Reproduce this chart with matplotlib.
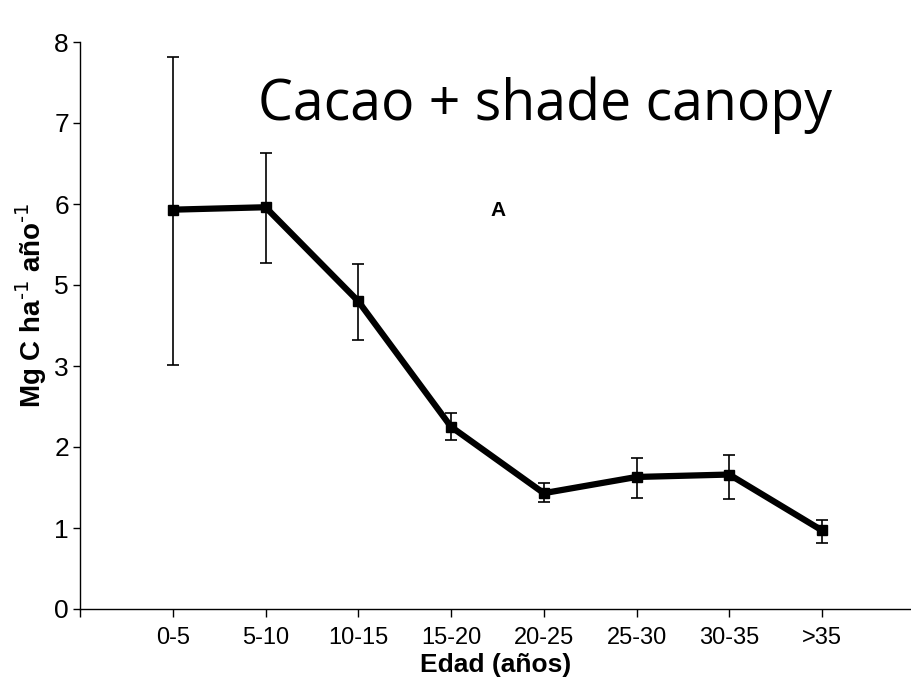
import matplotlib
matplotlib.use("Agg")
import matplotlib.pyplot as plt
import numpy as np

categories = ["0-5", "5-10", "10-15", "15-20", "20-25", "25-30", "30-35", ">35"]
# values in axis-position units (ticks are evenly spaced but labelled 0,1,2,3,5,6,7,8)
values = [4.93, 4.96, 3.80, 2.25, 1.43, 1.63, 1.66, 0.97]
err_low = [1.92, 0.69, 0.48, 0.16, 0.11, 0.26, 0.30, 0.15]
err_high = [1.89, 0.67, 0.46, 0.17, 0.12, 0.23, 0.24, 0.13]
ytick_labels = ["0", "1", "2", "3", "5", "6", "7", "8"]

plt.rcParams["mathtext.default"] = "regular"

fig = plt.figure(figsize=(9.12, 6.95), dpi=100)
ax = fig.add_axes([80/912, 86/695, 1 - 80/912, (609-42)/695])

x = np.arange(len(categories))
ax.errorbar(x, values, yerr=[err_low, err_high], fmt="none", ecolor="black",
            elinewidth=1.2, capsize=4, capthick=1.2, zorder=2)
ax.plot(x, values, color="black", lw=4.5, marker="s", markersize=7,
        solid_joinstyle="miter", zorder=3)

ax.set_xlim(-1, 7.97)
ax.set_ylim(0, 7)
ax.set_yticks(np.arange(len(ytick_labels)))
ax.set_yticklabels(ytick_labels, fontsize=19, family="Liberation Sans")
ax.set_xticks(np.arange(-1, len(categories)))
ax.set_xticklabels([""] + categories, fontsize=17, family="Liberation Sans")
ax.tick_params(axis="y", direction="out", length=5, width=1, pad=3)
ax.tick_params(axis="x", direction="out", length=6, width=1, pad=7)
for s in ["top", "right"]:
    ax.spines[s].set_visible(False)
for s in ["left", "bottom"]:
    ax.spines[s].set_linewidth(1)

ax.set_ylabel("Mg C ha$^{\\text{-1}}$ año$^{\\text{-1}}$", fontsize=20, fontweight="bold",
              family="Liberation Sans", va="center")
ax.yaxis.set_label_coords(-0.058, 0.536)
ax.set_xlabel("Edad (años)", fontsize=19, fontweight="bold",
              family="Liberation Sans", labelpad=3)

fig.text(258/912, 1 - 105/695, "Cacao + shade canopy", fontsize=40, family="Open Sans",
         va="center", ha="left")
ax.text(3.51, 4.92, "A", fontsize=15, fontweight="bold", family="Liberation Sans",
        ha="center", va="center")

fig.savefig("out.png", dpi=100)
